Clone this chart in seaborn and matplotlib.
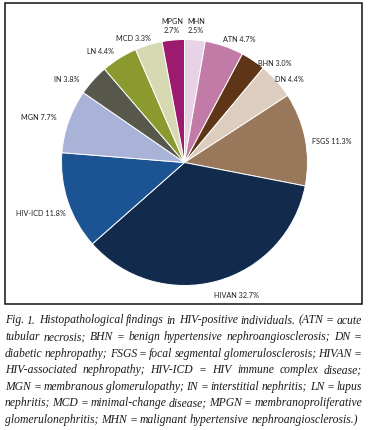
# %%
import numpy as np
import pandas as pd
import matplotlib.pyplot as plt
import seaborn as sns
from matplotlib.patches import Rectangle

# data, clockwise from 12 o'clock
labels = ['MHN', 'ATN', 'BHN', 'DN', 'FSGS', 'HIVAN', 'HIV-ICD', 'MGN', 'IN', 'LN', 'MCD', 'MPGN']
pct = [2.5, 4.7, 3.0, 4.4, 11.3, 32.7, 11.8, 7.7, 3.8, 4.4, 3.3, 2.7]
colors = ['#e8d2e5', '#c27ba7', '#5f3517', '#ddcdbf', '#98775a', '#122b4c',
          '#1c5393', '#a9b3d7', '#57574b', '#8b9a2f', '#d7d9b2', '#9d1b6f']

df = pd.DataFrame({'label': labels, 'pct': pct, 'color': colors})
two_line = df['label'].isin(['MHN', 'MPGN'])
df['text'] = [f'{l}\n{p:.1f}%' if tl else f'{l} {p:.1f}%'
              for l, p, tl in zip(df['label'], df['pct'], two_line)]

caption = [
    'Fig. 1. Histopathological findings in HIV-positive individuals. (ATN = acute',
    'tubular necrosis; BHN = benign hypertensive nephroangiosclerosis; DN =',
    'diabetic nephropathy; FSGS = focal segmental glomerulosclerosis; HIVAN =',
    'HIV-associated nephropathy; HIV-ICD = HIV immune complex disease;',
    'MGN = membranous glomerulopathy; IN = interstitial nephritis; LN = lupus',
    'nephritis; MCD = minimal-change disease; MPGN = membranoproliferative',
    'glomerulonephritis; MHN = malignant hypertensive nephroangiosclerosis.)',
]

# layout (image pixel coords, y from top)
W, H = 369, 431
label_pos = [(196, 26, 'center'), (223, 39, 'left'), (258, 63, 'left'), (275, 79, 'left'),
             (312, 142, 'left'), (214, 295, 'left'), (66, 213, 'right'), (57, 118, 'right'),
             (79, 79, 'right'), (114, 52, 'right'), (151, 38, 'right'), (172, 26, 'center')]

# %%
sns.set_style('white')
plt.rcParams['font.family'] = ['Lato', 'DejaVu Sans']

fig = plt.figure(figsize=(W / 100, H / 100), dpi=100)
ax = fig.add_axes([0, 0, 1, 1])

ax.pie(df['pct'], colors=df['color'], startangle=90, counterclock=False,
       center=(184.5, H - 163.5), radius=123,
       wedgeprops=dict(edgecolor='white', linewidth=0.7))

for t, (x, y, ha) in zip(df['text'], label_pos):
    ax.text(x, H - y, t, ha=ha, va='center', fontsize=5.2, color='#1e1e1e',
            linespacing=1.2)

ax.add_patch(Rectangle((5, H - 305), 357, 301, fill=False, edgecolor='#111111', linewidth=1.1))

ax.set_xlim(0, W)
ax.set_ylim(0, H)
ax.set_aspect('equal')
ax.axis('off')

# justified caption; font size chosen so the tightest line fits with narrow spaces
fig.canvas.draw()
rend = fig.canvas.get_renderer()
x0, x1 = 5, 362
cap_font = dict(family=['Liberation Serif', 'DejaVu Serif'], style='italic',
                color='#1a1a1a')
min_gap_em = 0.17


def word_widths(line, size):
    out = []
    for w in line.split(' '):
        t = ax.text(0, 0, w, fontsize=size, **cap_font)
        out.append(t.get_window_extent(rend).width)
        t.remove()
    return out


fits = []
for line in caption[:-1]:
    ws = word_widths(line, 10)
    n = len(ws)
    fits.append((x1 - x0) / (sum(ws) / 10 + (n - 1) * min_gap_em * 100 / 72))
fs = min(fits)

for i, line in enumerate(caption):
    yb = H - (323.5 + 16.6 * i)
    words = line.split(' ')
    texts = [ax.text(0, yb, w, ha='left', va='baseline', fontsize=fs, **cap_font) for w in words]
    widths = [t.get_window_extent(rend).width for t in texts]
    if i < len(caption) - 1:
        gap = (x1 - x0 - sum(widths)) / (len(words) - 1)
    else:
        gap = 0.22 * fs * 100 / 72
    x = x0
    for t, w in zip(texts, widths):
        t.set_x(x)
        x += w + gap

fig.savefig('out.png', dpi=100)
